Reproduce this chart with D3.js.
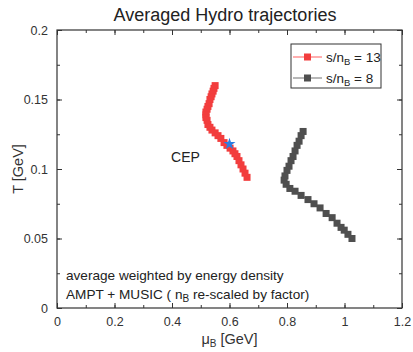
<!DOCTYPE html>
<html>
<head>
<meta charset="utf-8">
<script src="https://cdn.jsdelivr.net/npm/d3@7"></script>
<style>
  body { margin: 0; background: #fff; }
  svg { font-family: "Liberation Sans", Arial, sans-serif; }
</style>
</head>
<body>
<svg width="413" height="352"></svg>
<script>
// s/nB = 13 trajectory (muB, T)
var redMu = [0.550, 0.546, 0.543, 0.539, 0.536, 0.532, 0.529, 0.525, 0.522, 0.518,
             0.518, 0.518, 0.522, 0.525, 0.532, 0.539, 0.550, 0.560, 0.570, 0.581,
             0.591, 0.602, 0.612, 0.619, 0.626, 0.633, 0.640, 0.647, 0.654, 0.661];
var redT  = [0.160, 0.158, 0.156, 0.154, 0.152, 0.150, 0.147, 0.145, 0.143, 0.141,
             0.139, 0.137, 0.135, 0.132, 0.130, 0.128, 0.126, 0.124, 0.122, 0.119,
             0.117, 0.115, 0.113, 0.111, 0.109, 0.106, 0.103, 0.100, 0.097, 0.094];

// s/nB = 8 trajectory
var grayMu = [0.856, 0.849, 0.842, 0.835, 0.828, 0.821, 0.814, 0.807, 0.800, 0.793,
              0.790, 0.797, 0.810, 0.828, 0.849, 0.873, 0.894, 0.915, 0.936, 0.957,
              0.974, 0.988, 0.999, 1.012, 1.026];
var grayT  = [0.127, 0.124, 0.120, 0.117, 0.113, 0.109, 0.106, 0.102, 0.099, 0.095,
              0.092, 0.089, 0.086, 0.084, 0.081, 0.078, 0.075, 0.072, 0.068, 0.065,
              0.061, 0.058, 0.056, 0.053, 0.050];

var cep = {mu: 0.60, T: 0.118};

var xTicks = [0, 0.2, 0.4, 0.6, 0.8, 1, 1.2];
var yTicks = [0, 0.05, 0.1, 0.15, 0.2];

var series = [
  {label: "13", mu: redMu, T: redT, color: "#f23d3d", line: "#f77"},
  {label: "8", mu: grayMu, T: grayT, color: "#4f4f4f", line: "#888"}
];

var svg = d3.select("svg"),
    margin = {top: 30, right: 11, bottom: 44, left: 57},
    width = +svg.attr("width"),
    height = +svg.attr("height");

var x = d3.scaleLinear().domain([0, 1.2]).range([margin.left, width - margin.right]);
var y = d3.scaleLinear().domain([0, 0.2]).range([height - margin.bottom, margin.top]);

var fmt = function(d) { return String(d); };
var minorX = d3.range(0, 1.21, 0.1), minorY = d3.range(0, 0.201, 0.025);

// frame
svg.append("rect")
    .attr("x", x(0)).attr("y", y(0.2))
    .attr("width", x(1.2) - x(0)).attr("height", y(0) - y(0.2))
    .attr("fill", "none").attr("stroke", "#333").attr("stroke-width", 1.2);

function ticks(g, axis) {
  g.call(axis);
  g.select(".domain").remove();
  g.selectAll(".tick line").attr("stroke", "#333");
  g.selectAll("text").attr("fill", "#333").attr("font-size", 12.5);
}

// bottom / left with labels
svg.append("g").attr("transform", "translate(0," + y(0) + ")")
    .call(ticks, d3.axisBottom(x).tickValues(xTicks).tickFormat(fmt).tickSizeInner(-5).tickPadding(9));
svg.append("g").attr("transform", "translate(" + x(0) + ",0)")
    .call(ticks, d3.axisLeft(y).tickValues(yTicks).tickFormat(fmt).tickSizeInner(-5).tickPadding(9));
// top / right, no labels
svg.append("g").attr("transform", "translate(0," + y(0.2) + ")")
    .call(ticks, d3.axisTop(x).tickValues(xTicks).tickFormat("").tickSizeInner(-5));
svg.append("g").attr("transform", "translate(" + x(1.2) + ",0)")
    .call(ticks, d3.axisRight(y).tickValues(yTicks).tickFormat("").tickSizeInner(-5));
// minor ticks
[[d3.axisBottom(x), y(0)], [d3.axisTop(x), y(0.2)]].forEach(function(a) {
  svg.append("g").attr("transform", "translate(0," + a[1] + ")")
    .call(ticks, a[0].tickValues(minorX).tickFormat("").tickSizeInner(-3));
});
[[d3.axisLeft(y), x(0)], [d3.axisRight(y), x(1.2)]].forEach(function(a) {
  svg.append("g").attr("transform", "translate(" + a[1] + ",0)")
    .call(ticks, a[0].tickValues(minorY).tickFormat("").tickSizeInner(-3));
});

// title + axis labels
svg.append("text").attr("x", 225).attr("y", 21)
    .attr("text-anchor", "middle").attr("font-size", 18).attr("fill", "#222")
    .text("Averaged Hydro trajectories");

var xl = svg.append("text").attr("x", (x(0) + x(1.2)) / 2).attr("y", 344)
    .attr("text-anchor", "middle").attr("font-size", 14.5).attr("fill", "#333");
xl.append("tspan").text("\u03bc");
xl.append("tspan").attr("font-size", 10).attr("dy", 3).text("B");
xl.append("tspan").attr("dy", -3).text(" [GeV]");

svg.append("text").attr("transform", "translate(23," + (y(0.1)) + ") rotate(-90)")
    .attr("text-anchor", "middle").attr("font-size", 14.5).attr("fill", "#333")
    .text("T [GeV]");

// trajectories
var line = d3.line().x(function(d) { return x(d[0]); }).y(function(d) { return y(d[1]); });

series.forEach(function(s) {
  var pts = d3.zip(s.mu, s.T);
  svg.append("path").datum(pts).attr("d", line)
      .attr("fill", "none").attr("stroke", s.line).attr("stroke-width", 1);
  svg.append("g").selectAll("rect").data(pts).enter().append("rect")
      .attr("x", function(d) { return x(d[0]) - 3.5; })
      .attr("y", function(d) { return y(d[1]) - 3.5; })
      .attr("width", 7).attr("height", 7)
      .attr("fill", s.color);
});

// CEP
svg.append("path")
    .attr("transform", "translate(" + x(cep.mu) + "," + y(cep.T) + ")")
    .attr("d", d3.symbol().type(d3.symbolStar).size(45))
    .attr("fill", "#2b7de0");
svg.append("text").attr("x", x(cep.mu) - 44).attr("y", y(cep.T) + 18)
    .attr("text-anchor", "middle").attr("font-size", 14).attr("fill", "#222")
    .text("CEP");

// legend
var lg = svg.append("g");
lg.append("rect").attr("x", 291).attr("y", 44).attr("width", 90).attr("height", 44)
    .attr("fill", "#fff").attr("stroke", "#333").attr("stroke-width", 1);
series.forEach(function(s, i) {
  var ly = 57 + i * 21;
  lg.append("line").attr("x1", 293).attr("x2", 322).attr("y1", ly).attr("y2", ly)
      .attr("stroke", s.line).attr("stroke-width", 1.2);
  lg.append("rect").attr("x", 304).attr("y", ly - 3.5).attr("width", 7).attr("height", 7)
      .attr("fill", s.color);
  var t = lg.append("text").attr("x", 326).attr("y", ly + 5)
      .attr("font-size", 13.5).attr("fill", "#222");
  t.append("tspan").text("s/n");
  t.append("tspan").attr("font-size", 9.5).attr("dy", 3).text("B");
  t.append("tspan").attr("dy", -3).text(" = " + s.label);
});

// notes
svg.append("text").attr("x", 66).attr("y", 280).attr("font-size", 13.6).attr("fill", "#222")
    .text("average weighted by energy density");
var n2 = svg.append("text").attr("x", 66).attr("y", 299).attr("font-size", 13.6).attr("fill", "#222");
n2.append("tspan").text("AMPT + MUSIC ( n");
n2.append("tspan").attr("font-size", 10).attr("dy", 3).text("B");
n2.append("tspan").attr("dy", -3).text(" re-scaled by factor)");
</script>
</body>
</html>
